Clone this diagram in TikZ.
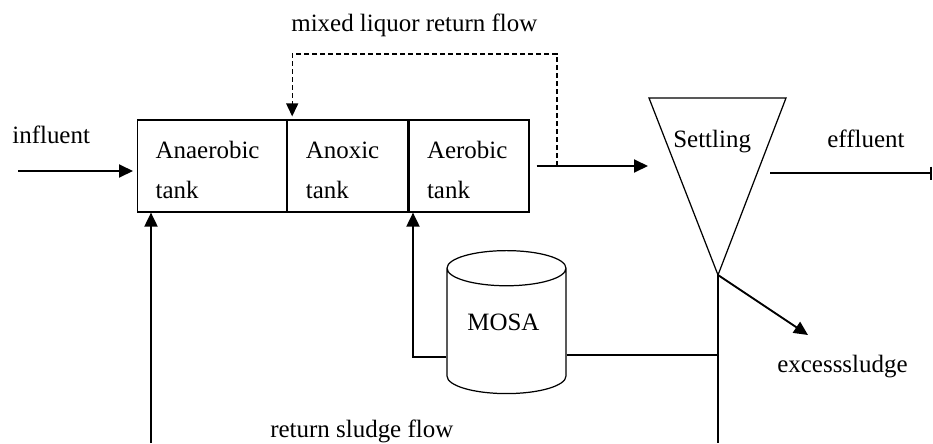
\documentclass[tikz,border=0pt]{standalone}
\usepackage{fontspec}
\setmainfont{Liberation Serif}
\usetikzlibrary{positioning,shapes.geometric,arrows.meta}

\tikzset{
  txt/.style = {inner sep=0pt, anchor=base west, font=\fontsize{14.2pt}{22.7pt}\selectfont},
  tank/.style = {draw, line width=0.7pt, minimum height=1.84cm, inner xsep=0.36cm,
                 text width=#1, text height=14.5pt, align=left,
                 font=\fontsize{14.2pt}{22.7pt}\selectfont},
  pipe/.style = {line width=1.1pt},
  flow/.style = {pipe, -{Triangle[length=0.28cm,width=0.26cm]}},
  mlr/.style  = {line width=0.8pt, dash pattern=on 0.1cm off 0.06cm,
                 -{Triangle[length=0.26cm,width=0.24cm]}},
  outline/.style = {line width=0.7pt}
}

\begin{document}
\begin{tikzpicture}[x=0.02cm,y=-0.02cm]
    \useasboundingbox (0,0) rectangle (933,443);
    % tanks
    \node[tank=2.26cm, anchor=west] (ana) at (137,166) {Anaerobic\\tank};
    \node[tank=1.68cm, right=0pt of ana] (ano) {Anoxic\\tank};
    \node[tank=1.68cm, right=0pt of ano] (aer) {Aerobic\\tank};
    % settling
    \coordinate (sl) at (649,98);
    \coordinate (sr) at (786,98);
    \coordinate (apex) at (718,275);
    \draw[outline] (sl) -- (sr) -- (apex) -- cycle;
    \node[txt] (settle) at (673,147) {Settling};
    % MOSA
    \node[cylinder, shape border rotate=90, draw, outline, aspect=3,
          minimum width=2.38cm, minimum height=2.86cm] (mosa) at (506.5,335) {};
    \node[txt] (mosatxt) at (467,330) {MOSA};
    % labels
    \node[txt] (infl) at (12,143) {influent};
    \node[txt] (mixl) at (291,31) {mixed liquor return flow};
    \node[txt] (effl) at (827,147) {effluent};
    \node[txt] (excl) at (777,372) {excesssludge};
    \node[txt] (retl) at (270,437) {return sludge flow};
    % end points
    \coordinate (inf) at (18,171);
    \coordinate (sin) at (648,166);
    \coordinate (tap) at (557,166);
    \coordinate (top) at (557,54);
    \coordinate (eo) at (770,173);
    \coordinate (ee) at (932,173);
    \coordinate (exs) at (808,335);
    \coordinate (j) at (718,355);
    \coordinate (ml) at (413,357);
    \coordinate (rs) at (151,443);
    \coordinate (bt) at (718,443);
    % flows
    \draw[flow] (inf) -- ([xshift=-0.08cm]ana.west |- inf);
    \draw[flow] ([xshift=0.14cm]aer.east) -- (sin);
    \draw[mlr] (tap) -- (top) -| ([xshift=0.1cm,yshift=0.06cm]ano.north west);
    \draw[pipe, -{Bar[width=0.26cm]}] (eo) -- (ee);
    \draw[pipe] (apex) -- (bt);
    \draw[flow] (apex) -- (exs);
    \draw[pipe] (mosa.east |- j) -- (j);
    \draw[flow] (mosa.west |- ml) -- (ml) -- (ml |- aer.south);
    \draw[flow] (rs) -- (rs |- ana.south);
\end{tikzpicture}
\end{document}
